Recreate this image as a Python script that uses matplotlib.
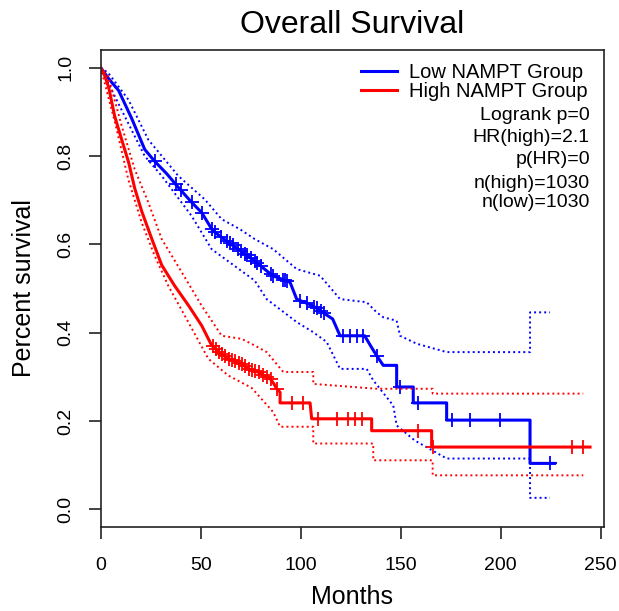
import numpy as np
from matplotlib import pyplot as plt

plt.rcParams['font.family'] = ['Liberation Sans', 'DejaVu Sans']

# Kaplan-Meier curves (months, survival)
low_t = [0, 4, 9, 15.5, 22, 27, 33, 39, 45.5, 50.5, 56, 64, 70, 75.5, 80, 86,
         94.7, 98, 106, 111, 116, 119.7, 132, 135, 138, 141.3, 148, 148,
         156.3, 156.3, 173, 173, 214.7, 214.7, 227]
low_s = [1.0, 0.975, 0.948, 0.885, 0.815, 0.788, 0.76, 0.728, 0.695, 0.672,
         0.631, 0.604, 0.585, 0.567, 0.551, 0.529, 0.514, 0.476, 0.461, 0.446,
         0.431, 0.393, 0.393, 0.37, 0.348, 0.326, 0.326, 0.277, 0.277, 0.241,
         0.241, 0.202, 0.202, 0.104, 0.104]
high_t = [0, 2, 4, 7, 10.5, 14, 17, 20.5, 25.5, 30.5, 37, 44, 50.5, 55.5, 60,
          64, 70, 74, 79, 84.7, 86.5, 88, 89.7, 89.7, 104.7, 105.5, 135.5,
          135.5, 165.5, 165.5, 244.7]
high_s = [1.0, 0.982, 0.955, 0.89, 0.837, 0.785, 0.727, 0.675, 0.613, 0.553,
          0.506, 0.461, 0.416, 0.371, 0.352, 0.341, 0.33, 0.318, 0.31, 0.296,
          0.285, 0.273, 0.265, 0.241, 0.241, 0.205, 0.205, 0.178, 0.178, 0.141,
          0.141]

# confidence bands
low_up_t = [0, 3.8, 13.8, 23.8, 38.8, 52, 60.5, 69.7, 77, 86.3, 98, 109.7,
            119.7, 133, 138, 141.3, 148, 149.7, 158, 173, 214.7, 214.7, 224.7]
low_up_s = [1.0, 0.988, 0.928, 0.837, 0.755, 0.702, 0.657, 0.634, 0.612,
            0.589, 0.544, 0.529, 0.476, 0.469, 0.446, 0.435, 0.427, 0.393,
            0.375, 0.356, 0.356, 0.446, 0.446]
low_lo_t = [0, 12, 22, 30.5, 45.5, 55.5, 67, 77, 83, 98, 106.3, 113, 119.7,
            133, 136.3, 146.3, 148, 157, 173, 214.7, 214.7, 224.7]
low_lo_s = [1.0, 0.89, 0.80, 0.755, 0.664, 0.589, 0.551, 0.518, 0.476, 0.424,
            0.401, 0.379, 0.318, 0.318, 0.292, 0.235, 0.19, 0.156, 0.115,
            0.115, 0.026, 0.026]
high_up_t = [0, 3.8, 10.5, 17, 23.8, 30.5, 40.5, 50.5, 60.5, 70.5, 77, 83,
             91.3, 106.3, 106.3, 138, 166, 166, 241.3]
high_up_s = [1.0, 0.98, 0.868, 0.77, 0.695, 0.612, 0.537, 0.461, 0.393, 0.386,
             0.371, 0.356, 0.311, 0.311, 0.284, 0.273, 0.273, 0.262, 0.262]
high_lo_t = [0, 7.2, 13.8, 20.5, 27, 33.8, 43.8, 53.8, 63.8, 75.5, 86.3, 89.7,
             106.3, 106.3, 136.3, 136.3, 166, 166, 241.3]
high_lo_s = [1.0, 0.875, 0.747, 0.649, 0.574, 0.506, 0.424, 0.341, 0.303,
             0.275, 0.22, 0.187, 0.187, 0.149, 0.149, 0.111, 0.111, 0.077,
             0.077]

# censored times
low_cens = [27, 37.5, 40, 45.5, 50.5, 55.5, 57, 60, 63, 64.5, 66, 68.5, 70,
            72, 73, 75, 77, 78, 80, 85, 86, 91.3, 92, 93, 99.7, 103, 106.7,
            108, 110, 111.7, 121.3, 124.7, 128, 131.3, 138, 149.7, 158.8,
            175.5, 184.7, 199.7, 224.7]
high_cens = [56, 57.5, 59, 60.5, 62, 64, 65.5, 67, 69, 70.5, 72, 74, 75.5, 77,
             79, 81, 83, 85, 88, 95.5, 101.3, 108.8, 118, 123.8, 127.2, 130.5,
             158.8, 166.3, 235.5, 241.3]

stats = ['Logrank p=0', 'HR(high)=2.1', 'p(HR)=0', 'n(high)=1030',
         'n(low)=1030']

fig = plt.figure()
fig.set_dpi(100)
fig.set_size_inches(6.19, 6.11)
ax = fig.add_axes([0.1627, 0.1375, 0.8131, 0.7806])

dot = (0, (1, 1.6))
for t, s, up_t, up_s, lo_t, lo_s, cens, col, lab in [
        (low_t, low_s, low_up_t, low_up_s, low_lo_t, low_lo_s, low_cens,
         '#0000FF', 'Low NAMPT Group'),
        (high_t, high_s, high_up_t, high_up_s, high_lo_t, high_lo_s, high_cens,
         '#FF0000', 'High NAMPT Group')]:
    ax.plot(up_t, up_s, color=col, lw=1.4, ls=dot)
    ax.plot(lo_t, lo_s, color=col, lw=1.4, ls=dot)
    ax.plot(t, s, color=col, lw=2.2, label=lab)
    # censor marks sit on the curve
    cs = np.interp(cens, t, s)
    ax.plot(cens, cs, ls='none', marker='+', color=col, ms=10, mew=1.3)

ax.set_xlim(0, 251.7)
ax.set_ylim(-0.04, 1.04)
ax.set_xticks([0, 50, 100, 150, 200, 250])
ax.set_yticks([0.0, 0.2, 0.4, 0.6, 0.8, 1.0])
ax.set_yticklabels(['0.0', '0.2', '0.4', '0.6', '0.8', '1.0'],
                   rotation=90, va='center')
ax.tick_params(length=8.6, width=1.2, labelsize=14, color='#222222')
ax.tick_params(axis='x', pad=13)
ax.tick_params(axis='y', pad=10.5)
for sp in ax.spines.values():
    sp.set_linewidth(1.2)
    sp.set_color('#222222')

ax.set_title('Overall Survival', fontsize=23, pad=12)
ax.set_xlabel('Months', fontsize=18, labelpad=8)
ax.set_ylabel('Percent survival', fontsize=18, labelpad=15)

ax.legend(loc='upper right', bbox_to_anchor=(0.968, 0.972), frameon=False,
          fontsize=14.5, handlelength=1.8, handletextpad=0.6,
          labelspacing=-0.02, borderaxespad=0, borderpad=0)
ys = [0.862, 0.816, 0.770, 0.721, 0.680]
for y, txt in zip(ys, stats):
    ax.text(0.972, y, txt, transform=ax.transAxes, ha='right', va='center',
            fontsize=14)

fig.savefig('out.png')
